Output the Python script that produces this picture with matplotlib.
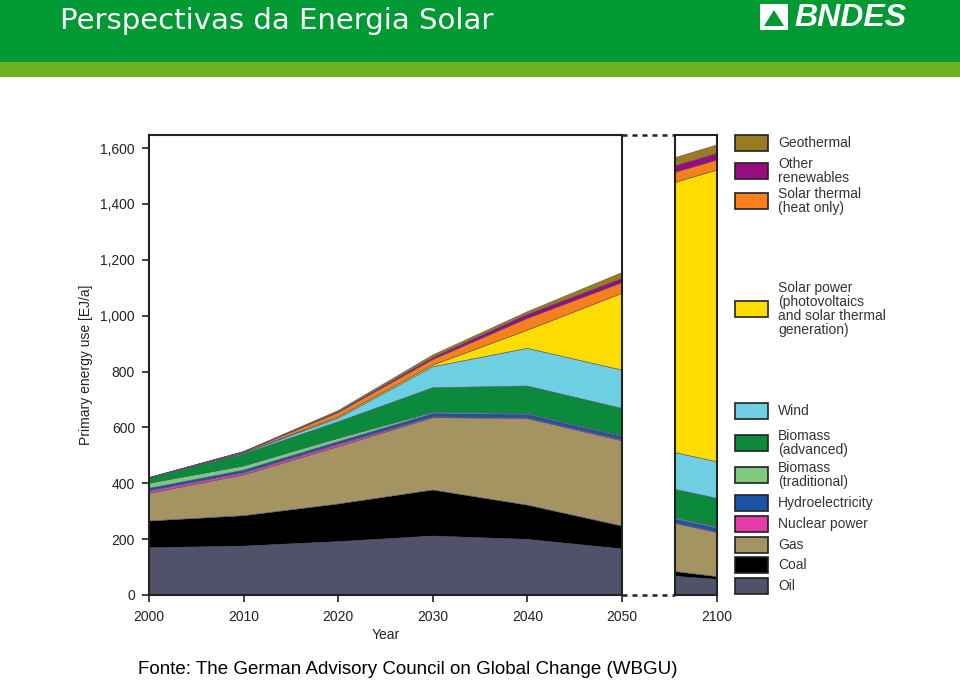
import numpy as np
import matplotlib.pyplot as plt
from matplotlib.patches import Rectangle, Polygon
from matplotlib.lines import Line2D

plt.rcParams['font.family'] = ['Liberation Sans', 'DejaVu Sans']

# data, EJ/a per source (stacked from the bottom)
years = [2000, 2010, 2020, 2030, 2040, 2050, 2100]
oil = [169, 175, 191, 211, 199, 165, 56]
coal = [96, 109, 135, 165, 123, 82, 10]
gas = [99, 146, 205, 259, 310, 305, 158]
nuclear = [9, 8, 9, 3, 2, 4, 2]
hydro = [9, 9, 9, 12, 13, 11, 14]
biomass_trad = [18, 15, 12, 4, 3, 3, 4]
biomass_adv = [18, 43, 59, 88, 98, 98, 102]
wind = [0.5, 3, 13, 75, 135, 137, 131]
solar_power = [0.2, 1, 5, 6, 65, 275, 1044]
solar_thermal = [0.5, 3, 15, 20, 42, 38, 36]
other_ren = [0.5, 0.5, 3, 7, 15, 15, 24]
geothermal = [1, 1, 4, 9, 9, 21, 30]

series = [oil, coal, gas, nuclear, hydro, biomass_trad, biomass_adv,
          wind, solar_power, solar_thermal, other_ren, geothermal]
colors = ['#51516a', '#000000', '#a39462', '#e63ba8', '#1b54a4', '#7fc97f',
          '#0b8a3c', '#6fcfe2', '#ffdc00', '#f7801c', '#990b80', '#9a7c1f']

legend_labels = ['Geothermal', 'Other\nrenewables', 'Solar thermal\n(heat only)',
                 'Solar power\n(photovoltaics\nand solar thermal\ngeneration)',
                 'Wind', 'Biomass\n(advanced)', 'Biomass\n(traditional)',
                 'Hydroelectricity', 'Nuclear power', 'Gas', 'Coal', 'Oil']
legend_colors = colors[::-1]
legend_y = [143, 171, 201, 309, 411, 443, 475, 503, 524, 545, 565, 586]  # px from top

y_ticks = [0, 200, 400, 600, 800, 1000, 1200, 1400, 1600]
x_ticks = [2000, 2010, 2020, 2030, 2040, 2050]

W, H = 960, 681
fig = plt.figure(figsize=(9.6, 6.81), dpi=100)

# header bands
fig.patches.append(Rectangle((0, 1 - 62 / H), 1, 62 / H, transform=fig.transFigure,
                             facecolor='#009933', edgecolor='none', zorder=0))
fig.patches.append(Rectangle((0, 1 - 77 / H), 1, 15 / H, transform=fig.transFigure,
                             facecolor='#6db31f', edgecolor='none', zorder=0))
fig.text(60 / W, 1 - 21 / H, 'Perspectivas da Energia Solar', color='white',
         fontsize=21, family='DejaVu Sans', va='center', ha='left')
# BNDES logo
fig.patches.append(Rectangle((760 / W, 1 - 30 / H), 28 / W, 26 / H, transform=fig.transFigure,
                             facecolor='white', edgecolor='none'))
fig.patches.append(Polygon([[764 / W, 1 - 26 / H], [784 / W, 1 - 26 / H], [774 / W, 1 - 10 / H]],
                           closed=True, transform=fig.transFigure, facecolor='#009933',
                           edgecolor='none'))
fig.text(794 / W, 1 - 18 / H, 'BNDES', color='white', fontsize=23, fontweight='bold',
         fontstyle='italic', va='center', ha='left')

# main chart 2000-2050
left, right, bottom, top = 149, 622, 595, 135
ymax = (bottom - top) / ((595 - 148) / 1600)
ax = fig.add_axes([left / W, 1 - bottom / H, (right - left) / W, (bottom - top) / H])
ax.stackplot(years, *series, colors=colors, edgecolors=colors, linewidth=0.4)
ax.set_xlim(2000, 2050)
ax.set_ylim(0, ymax)
ax.set_xticks(x_ticks)
ax.set_yticks(y_ticks)
ax.set_yticklabels(['{:,}'.format(v) for v in y_ticks])
ax.tick_params(labelsize=10, colors='#222222', width=1.2, length=5, direction='out')
ax.tick_params(axis='x', pad=6)
ax.tick_params(axis='y', pad=5)
ax.set_xlabel('Year', fontsize=10, color='#222222', labelpad=3)
ax.set_ylabel('Primary energy use [EJ/a]', fontsize=10, color='#222222', labelpad=5)
for s in ax.spines.values():
    s.set_linewidth(1.5)
    s.set_color('#222222')

# 2100 slice
p_left, p_right = 675, 717
ax2 = fig.add_axes([p_left / W, 1 - bottom / H, (p_right - p_left) / W, (bottom - top) / H])
ax2.stackplot(years, *series, colors=colors, edgecolors=colors, linewidth=0.4)
ax2.set_xlim(2095, 2100)
ax2.set_ylim(0, ymax)
ax2.set_xticks([2100])
ax2.set_yticks([])
ax2.tick_params(labelsize=10, colors='#222222', width=1.2, length=5, direction='out', pad=6)
for s in ax2.spines.values():
    s.set_linewidth(1.5)
    s.set_color('#222222')

# broken axis dashes
for yy in (top, bottom):
    fig.add_artist(Line2D([right / W, p_left / W], [1 - yy / H, 1 - yy / H],
                          transform=fig.transFigure, color='#222222', lw=1.8,
                          linestyle=(0, (2, 2))))

# legend
for lab, col, yc in zip(legend_labels, legend_colors, legend_y):
    fig.patches.append(Rectangle((735 / W, 1 - (yc + 8) / H), 33 / W, 16 / H,
                                 transform=fig.transFigure, facecolor=col,
                                 edgecolor='#222222', lw=1.2))
    fig.text(778 / W, 1 - yc / H, lab, fontsize=10, color='#333333',
             va='center', ha='left', linespacing=0.97)

fig.text(138 / W, 1 - 669 / H, 'Fonte: The German Advisory Council on Global Change (WBGU)',
         fontsize=13.5, color='black', va='center', ha='left')

fig.savefig('out.png', dpi=100)
